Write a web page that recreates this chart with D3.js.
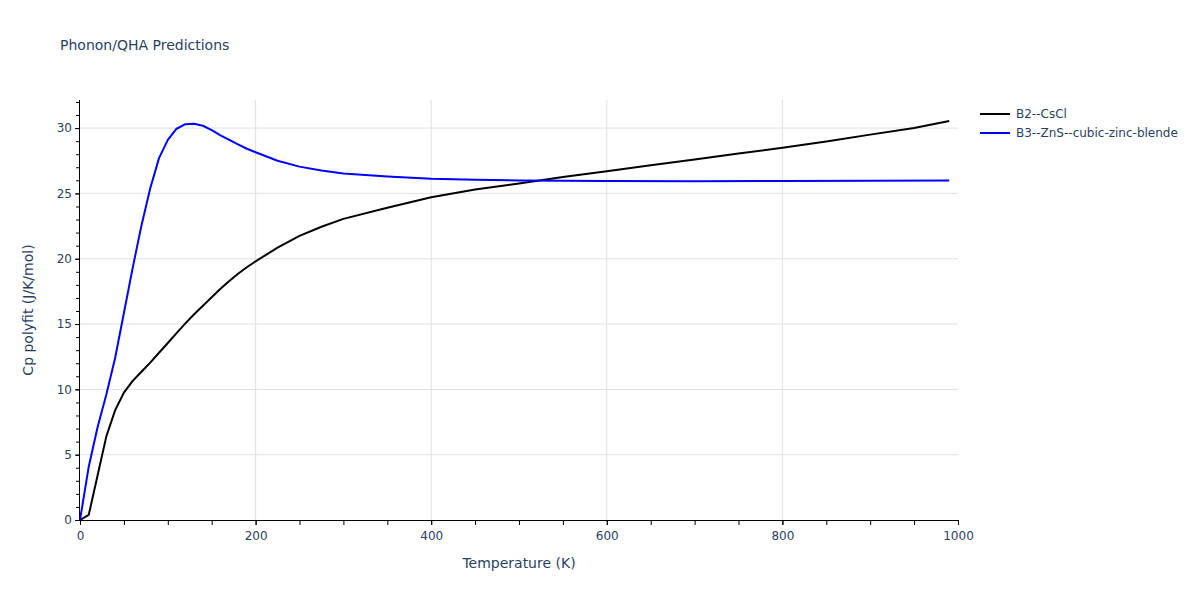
<!DOCTYPE html>
<html>
<head>
<meta charset="utf-8">
<script src="https://cdn.jsdelivr.net/npm/d3@7"></script>
<style>
  html, body { margin: 0; padding: 0; background: #fff; }
  svg text { font-family: "DejaVu Sans", sans-serif; fill: #2a3f5f; }
</style>
</head>
<body>
<svg id="chart" width="1200" height="600"></svg>
<script>
const title = "Phonon/QHA Predictions";
const xLabel = "Temperature (K)";
const yLabel = "Cp polyfit (J/K/mol)";
const seriesNames = ["B2--CsCl", "B3--ZnS--cubic-zinc-blende"];
const seriesColors = ["#000000", "#0000ff"];

const tempB2 = [0,10,20,30,40,50,60,70,80,90,100,110,120,130,140,150,160,170,180,190,200,225,250,275,300,350,400,450,500,550,600,650,700,750,800,850,900,950,990];
const cpB2   = [0,0.4,3.4,6.4,8.4,9.75,10.65,11.35,12.05,12.8,13.55,14.3,15.05,15.75,16.4,17.05,17.7,18.3,18.85,19.35,19.8,20.85,21.75,22.45,23.05,23.9,24.7,25.3,25.75,26.25,26.7,27.15,27.6,28.05,28.5,28.98,29.5,30.0,30.55];

const tempB3 = [0,10,20,30,40,50,60,70,80,90,100,110,120,130,140,150,160,170,180,190,200,225,250,275,300,350,400,450,500,550,600,700,800,900,990];
const cpB3   = [0,4.1,7.1,9.6,12.4,15.85,19.3,22.55,25.4,27.7,29.1,29.95,30.3,30.33,30.18,29.85,29.45,29.1,28.75,28.42,28.15,27.5,27.05,26.75,26.52,26.3,26.13,26.05,25.99,25.96,25.95,25.93,25.95,25.97,25.98];

const xTicks = [0,200,400,600,800,1000];
const yTicks = [0,5,10,15,20,25,30];

const svg = d3.select("#chart");
const L = 80, R = 958, T = 100, B = 520;
const x = d3.scaleLinear().domain([0, 1000]).range([L, R]);
const y = d3.scaleLinear().domain([0, 32.15]).range([B, T]);

svg.append("g").selectAll("line").data(xTicks.filter(d => d > 0 && d < 1000)).join("line")
  .attr("x1", d => x(d)).attr("x2", d => x(d)).attr("y1", T).attr("y2", B)
  .attr("stroke", "#e0e0e0").attr("stroke-width", 1);
svg.append("g").selectAll("line").data(yTicks.filter(d => d > 0)).join("line")
  .attr("x1", L).attr("x2", R).attr("y1", d => y(d)).attr("y2", d => y(d))
  .attr("stroke", "#e0e0e0").attr("stroke-width", 1);

const xMinor = d3.range(0, 1001, 50);
const yMinor = d3.range(0, 33, 1);
svg.append("g").attr("transform", `translate(0,${B})`)
  .call(d3.axisBottom(x).tickValues(xMinor).tickSize(5).tickFormat(""))
  .call(g => g.select(".domain").remove())
  .selectAll("line").attr("stroke", "#000");
svg.append("g").attr("transform", `translate(${L},0)`)
  .call(d3.axisLeft(y).tickValues(yMinor).tickSize(4).tickFormat(""))
  .call(g => g.select(".domain").remove())
  .selectAll("line").attr("stroke", "#000");

const xAxis = svg.append("g").attr("transform", `translate(0,${B})`)
  .call(d3.axisBottom(x).tickValues(xTicks).tickSize(5).tickPadding(6).tickFormat(d3.format("d")));
xAxis.select(".domain").attr("stroke", "#000").attr("d", `M${L},0.5H${R}`);
xAxis.selectAll("line").attr("stroke", "#000");
xAxis.selectAll("text").attr("font-size", 12).style("fill", "#2a3f5f");

const yAxis = svg.append("g").attr("transform", `translate(${L},0)`)
  .call(d3.axisLeft(y).tickValues(yTicks).tickSize(5).tickPadding(3));
yAxis.select(".domain").attr("stroke", "#000").attr("d", `M-0.5,${B}V${T}`);
yAxis.selectAll("line").attr("stroke", "#000");
yAxis.selectAll("text").attr("font-size", 12).style("fill", "#2a3f5f");

const line = d3.line().x(d => x(d[0])).y(d => y(d[1]));
const datasets = [d3.zip(tempB2, cpB2), d3.zip(tempB3, cpB3)];
svg.append("g").selectAll("path").data(datasets).join("path")
  .attr("d", line).attr("fill", "none")
  .attr("stroke", (d, i) => seriesColors[i]).attr("stroke-width", 2)
  .attr("stroke-linejoin", "round");

svg.append("text").attr("x", 60).attr("y", 50).attr("font-size", 14).text(title);
svg.append("text").attr("x", (L + R) / 2).attr("y", 568).attr("text-anchor", "middle")
  .attr("font-size", 14).text(xLabel);
svg.append("text").attr("transform", `translate(33,${(T + B) / 2}) rotate(-90)`)
  .attr("text-anchor", "middle").attr("font-size", 14).text(yLabel);

const lg = svg.append("g").selectAll("g").data(seriesNames).join("g")
  .attr("transform", (d, i) => `translate(980,${114 + i * 19})`);
lg.append("line").attr("x1", 0).attr("x2", 30).attr("y1", 0).attr("y2", 0)
  .attr("stroke", (d, i) => seriesColors[i]).attr("stroke-width", 2);
lg.append("text").attr("x", 36).attr("y", 4).attr("font-size", 12).text(d => d);
</script>
</body>
</html>
